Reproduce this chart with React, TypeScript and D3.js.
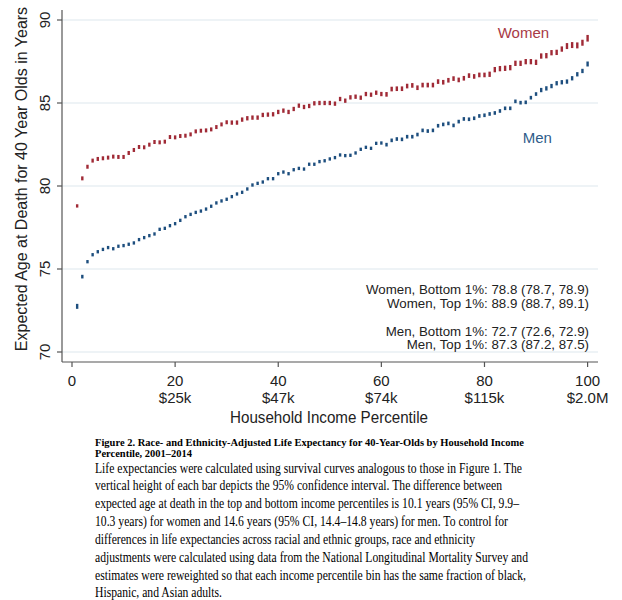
import React from "react";
import * as d3 from "d3";

const percentiles: number[] = d3.range(1, 101);

const women: number[] = [
  78.80, 80.46, 81.16, 81.53, 81.63, 81.67, 81.71, 81.77, 81.75, 81.75,
  81.99, 82.17, 82.35, 82.33, 82.49, 82.65, 82.63, 82.67, 82.95, 82.93,
  83.01, 83.03, 83.11, 83.29, 83.33, 83.35, 83.41, 83.55, 83.71, 83.84,
  83.82, 83.82, 84.00, 84.08, 84.12, 84.12, 84.28, 84.30, 84.32, 84.46,
  84.54, 84.46, 84.64, 84.84, 84.76, 84.82, 84.98, 85.00, 85.00, 85.00,
  84.96, 85.24, 85.14, 85.34, 85.38, 85.32, 85.54, 85.50, 85.62, 85.54,
  85.52, 85.84, 85.86, 85.86, 86.02, 86.06, 85.92, 86.08, 86.08, 86.08,
  86.29, 86.25, 86.37, 86.47, 86.39, 86.49, 86.65, 86.60, 86.69, 86.69,
  86.73, 87.01, 87.07, 87.09, 87.13, 87.39, 87.39, 87.49, 87.49, 87.45,
  87.83, 87.85, 88.03, 88.05, 88.25, 88.43, 88.49, 88.47, 88.63, 88.90,
];

const womenCI: number[] = [
  0.10, 0.12, 0.12, 0.12, 0.12, 0.12, 0.12, 0.12, 0.12, 0.12,
  0.12, 0.12, 0.12, 0.12, 0.12, 0.12, 0.12, 0.12, 0.12, 0.12,
  0.12, 0.12, 0.12, 0.12, 0.12, 0.12, 0.12, 0.12, 0.12, 0.12,
  0.13, 0.13, 0.13, 0.13, 0.13, 0.13, 0.13, 0.13, 0.13, 0.13,
  0.13, 0.13, 0.13, 0.13, 0.13, 0.13, 0.13, 0.13, 0.13, 0.13,
  0.13, 0.13, 0.13, 0.13, 0.13, 0.13, 0.13, 0.13, 0.13, 0.13,
  0.14, 0.14, 0.14, 0.14, 0.14, 0.14, 0.14, 0.14, 0.14, 0.14,
  0.14, 0.14, 0.14, 0.14, 0.14, 0.14, 0.14, 0.14, 0.14, 0.14,
  0.16, 0.16, 0.16, 0.16, 0.16, 0.16, 0.16, 0.16, 0.16, 0.16,
  0.16, 0.16, 0.16, 0.16, 0.16, 0.18, 0.18, 0.18, 0.18, 0.20,
];

const men: number[] = [
  72.75, 74.54, 75.44, 75.86, 76.04, 76.18, 76.29, 76.22, 76.37, 76.41,
  76.49, 76.57, 76.77, 76.89, 77.01, 77.11, 77.39, 77.45, 77.61, 77.73,
  77.93, 78.15, 78.29, 78.41, 78.49, 78.61, 78.78, 78.98, 79.10, 79.20,
  79.36, 79.52, 79.62, 79.82, 80.06, 80.16, 80.24, 80.44, 80.44, 80.74,
  80.84, 80.74, 80.98, 81.06, 81.02, 81.31, 81.31, 81.47, 81.52, 81.63,
  81.71, 81.87, 81.83, 81.85, 81.99, 82.21, 82.33, 82.27, 82.57, 82.59,
  82.49, 82.75, 82.83, 82.81, 82.97, 82.97, 83.10, 83.35, 83.31, 83.35,
  83.63, 83.71, 83.77, 83.65, 83.88, 84.04, 84.02, 84.08, 84.22, 84.26,
  84.34, 84.40, 84.52, 84.68, 84.68, 85.10, 85.02, 85.04, 85.32, 85.54,
  85.78, 85.88, 86.02, 86.19, 86.25, 86.29, 86.49, 86.73, 86.93, 87.35,
];

const menCI: number[] = [
  0.15, 0.11, 0.10, 0.10, 0.10, 0.10, 0.10, 0.10, 0.10, 0.10,
  0.10, 0.10, 0.10, 0.10, 0.10, 0.10, 0.10, 0.10, 0.10, 0.10,
  0.10, 0.10, 0.10, 0.10, 0.10, 0.10, 0.10, 0.10, 0.10, 0.10,
  0.10, 0.10, 0.10, 0.10, 0.10, 0.10, 0.10, 0.10, 0.10, 0.10,
  0.10, 0.10, 0.10, 0.10, 0.10, 0.10, 0.10, 0.10, 0.10, 0.10,
  0.10, 0.10, 0.10, 0.10, 0.10, 0.10, 0.10, 0.10, 0.10, 0.10,
  0.11, 0.11, 0.11, 0.11, 0.11, 0.11, 0.11, 0.11, 0.11, 0.11,
  0.11, 0.11, 0.11, 0.11, 0.11, 0.11, 0.11, 0.11, 0.11, 0.11,
  0.11, 0.11, 0.11, 0.11, 0.11, 0.11, 0.11, 0.11, 0.11, 0.11,
  0.13, 0.13, 0.13, 0.13, 0.13, 0.13, 0.13, 0.13, 0.13, 0.15,
];

const yTicks: number[] = [70, 75, 80, 85, 90];
const xTicks: number[] = [0, 20, 40, 60, 80, 100];
const xTickIncome: string[] = ["", "$25k", "$47k", "$74k", "$115k", "$2.0M"];

const yTitle = "Expected Age at Death for 40 Year Olds in Years";
const xTitle = "Household Income Percentile";

const annotations: string[] = [
  "Women, Bottom 1%: 78.8 (78.7, 78.9)",
  "Women, Top 1%: 88.9 (88.7, 89.1)",
  "Men, Bottom 1%: 72.7 (72.6, 72.9)",
  "Men, Top 1%: 87.3 (87.2, 87.5)",
];

const captionBold: string[] = [
  "Figure 2. Race- and Ethnicity-Adjusted Life Expectancy for 40-Year-Olds by Household Income",
  "Percentile, 2001\u20132014",
];
const captionBody: string[] = [
  "Life expectancies were calculated using survival curves analogous to those in Figure 1. The",
  "vertical height of each bar depicts the 95% confidence interval. The difference between",
  "expected age at death in the top and bottom income percentiles is 10.1 years (95% CI, 9.9\u2013",
  "10.3 years) for women and 14.6 years (95% CI, 14.4\u201314.8 years) for men. To control for",
  "differences in life expectancies across racial and ethnic groups, race and ethnicity",
  "adjustments were calculated using data from the National Longitudinal Mortality Survey and",
  "estimates were reweighted so that each income percentile bin has the same fraction of black,",
  "Hispanic, and Asian adults.",
];
const captionBoldEnds: number[] = [524, 192];
const captionBodyEnds: number[] = [522, 502, 519, 508, 475, 528, 526, 222];

const WOMEN_COLOR = "#a02a36";
const MEN_COLOR = "#1d4e7e";
const SANS = "'Liberation Sans', Arial, sans-serif";
const SERIF = "'Liberation Serif', 'Times New Roman', serif";

export default function App() {
  const x = d3.scaleLinear().domain([0, 100]).range([72, 587.6]);
  const y = d3.scaleLinear().domain([70, 90]).range([352, 20]);
  const axisLeft = 62;
  const axisRight = 598;
  const axisBottom = 362;
  const barW = 2.4;
  const capX = 95;

  const bars = (vals: number[], ci: number[], color: string) =>
    percentiles.map((p, i) => {
      const top = y(vals[i] + ci[i]);
      const bot = y(vals[i] - ci[i]);
      return (
        <rect
          key={p}
          x={x(p) - barW / 2}
          y={top}
          width={barW}
          height={Math.max(bot - top, 2)}
          fill={color}
        />
      );
    });

  return (
    <div style={{ position: "absolute", left: 0, top: 0 }}>
      <svg width={622} height={600} style={{ display: "block", background: "#fff" }}>
        {/* gridlines */}
        {yTicks.map((t) => (
          <line
            key={"g" + t}
            x1={axisLeft}
            x2={axisRight}
            y1={y(t)}
            y2={y(t)}
            stroke="#dde7ed"
            strokeWidth={1.2}
          />
        ))}
        {/* axes */}
        <line x1={axisLeft} x2={axisLeft} y1={10} y2={axisBottom} stroke="#555" strokeWidth={1.2} />
        <line x1={axisLeft} x2={axisRight} y1={axisBottom} y2={axisBottom} stroke="#555" strokeWidth={1.2} />
        {yTicks.map((t) => (
          <g key={"yt" + t}>
            <line x1={axisLeft - 5} x2={axisLeft} y1={y(t)} y2={y(t)} stroke="#555" strokeWidth={1.2} />
            <text
              transform={`translate(50,${y(t)}) rotate(-90)`}
              textAnchor="middle"
              fontFamily={SANS}
              fontSize={15}
              fill="#222"
            >
              {t}
            </text>
          </g>
        ))}
        {xTicks.map((t, i) => (
          <g key={"xt" + t}>
            <line x1={x(t)} x2={x(t)} y1={axisBottom} y2={axisBottom + 5} stroke="#555" strokeWidth={1.2} />
            <text x={x(t)} y={385.5} textAnchor="middle" fontFamily={SANS} fontSize={15} fill="#222">
              {t}
            </text>
            {xTickIncome[i] && (
              <text x={x(t)} y={402.5} textAnchor="middle" fontFamily={SANS} fontSize={15} fill="#222">
                {xTickIncome[i]}
              </text>
            )}
          </g>
        ))}
        <text
          x={329}
          y={423}
          textAnchor="middle"
          fontFamily={SANS}
          fontSize={16}
          fill="#222"
          textLength={198}
          lengthAdjust="spacingAndGlyphs"
        >
          {xTitle}
        </text>
        <text
          transform={`translate(27,179) rotate(-90)`}
          textAnchor="middle"
          fontFamily={SANS}
          fontSize={16}
          fill="#222"
        >
          {yTitle}
        </text>

        {/* data */}
        <g>{bars(women, womenCI, WOMEN_COLOR)}</g>
        <g>{bars(men, menCI, MEN_COLOR)}</g>

        {/* series labels */}
        <text x={497.7} y={38.3} fontFamily={SANS} fontSize={15} fill="#a83a46">
          Women
        </text>
        <text x={522.7} y={143.3} fontFamily={SANS} fontSize={15} fill="#2f5c8a">
          Men
        </text>

        {/* annotations */}
        {annotations.map((a, i) => (
          <text
            key={a}
            x={589}
            y={[293.5, 307.5, 335.5, 349.3][i]}
            textAnchor="end"
            fontFamily={SANS}
            fontSize={13.3}
            fill="#222"
          >
            {a}
          </text>
        ))}

        {/* caption */}
        {captionBold.map((c, i) => (
          <text
            key={c}
            x={capX}
            y={445.5 + i * 11.8}
            fontFamily={SERIF}
            fontWeight="bold"
            fontSize={11.3}
            fill="#000"
            textLength={captionBoldEnds[i] - capX}
            lengthAdjust="spacingAndGlyphs"
          >
            {c}
          </text>
        ))}
        {captionBody.map((c, i) => (
          <text
            key={c}
            x={capX}
            y={472.5 + i * 17.85}
            fontFamily={SERIF}
            fontSize={14}
            fill="#000"
            textLength={captionBodyEnds[i] - capX}
            lengthAdjust="spacingAndGlyphs"
          >
            {c}
          </text>
        ))}
      </svg>
    </div>
  );
}
